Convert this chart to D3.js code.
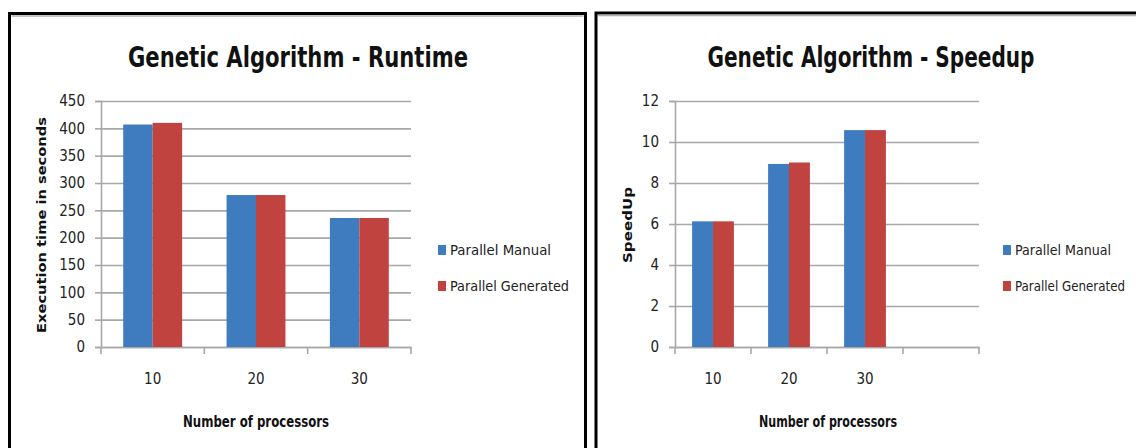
<!DOCTYPE html>
<html>
<head>
<meta charset="utf-8">
<script src="https://cdn.jsdelivr.net/npm/d3@7"></script>
<style>
  body { margin: 0; background: #fff; }
  svg { display: block; }
</style>
</head>
<body>
<div id="chart"></div>
<script>
// values
const categories = ["10", "20", "30"]
const speedupCategories = ["10", "20", "30", ""]   // empty 4th slot in the speedup plot
const seriesNames = ["Parallel Manual", "Parallel Generated"]
const runtimeManual = [407, 278, 236]
const runtimeGenerated = [410, 278, 236]
const speedupManual = [6.13, 8.93, 10.58]
const speedupGenerated = [6.13, 9.0, 10.58]
const runtimeTicks = [0, 50, 100, 150, 200, 250, 300, 350, 400, 450]
const speedupTicks = [0, 2, 4, 6, 8, 10, 12]

const width = 1136
const height = 448
const narrow = "'Liberation Sans Narrow', 'DejaVu Sans Condensed', 'Arial Narrow', sans-serif"
const wide = "'DejaVu Sans', Verdana, sans-serif"

color = d3.scaleOrdinal(seriesNames, ['#3f7cbf', '#c0433f'])

var svg = d3.select('#chart')
    .append("svg")
    .attr('width', width)
    .attr('height', height)

function drawChart(o) {
    var g = svg.append("g")

    // panel frame
    g.append("rect")
        .attr("x", o.frame[0]).attr("y", o.frame[1])
        .attr("width", o.frame[2]).attr("height", o.frame[3])
        .attr("fill", "none").attr("stroke", "#000").attr("stroke-width", 3)
    g.append("line")
        .attr("x1", o.frame[0] + 2).attr("x2", o.frame[0] + o.frame[2] - 2)
        .attr("y1", o.frame[1] + 2.5).attr("y2", o.frame[1] + 2.5)
        .attr("stroke", "#b0b0b0").attr("stroke-width", 1.5)

    var x = d3.scaleBand()
        .domain(o.cats)
        .range(o.xRange)
        .paddingInner(o.pad)
        .paddingOuter(o.pad / 2)

    var x1 = d3.scaleBand()
        .domain(seriesNames)
        .range([0, x.bandwidth()])

    var y = d3.scaleLinear()
        .domain([0, d3.max(o.ticks)])
        .range([347, 101])

    // gridlines
    g.append("g")
        .attr("transform", `translate(${o.xRange[0]},0)`)
        .call(d3.axisRight(y).tickValues(o.ticks).tickSize(o.xRange[1] - o.xRange[0]).tickFormat(""))
        .call(g => g.select(".domain").remove())
        .call(g => g.selectAll(".tick line").attr("stroke", "#a8a8a8").attr("stroke-width", 1.6))

    // y axis
    g.append("g")
        .attr("transform", `translate(${o.xRange[0]},0)`)
        .call(d3.axisLeft(y).tickValues(o.ticks).tickSize(6).tickPadding(10))
        .call(g => g.select(".domain").attr("stroke", "#a8a8a8").attr("stroke-width", 1.6))
        .call(g => g.selectAll(".tick line").attr("stroke", "#a8a8a8").attr("stroke-width", 1.6))
        .call(g => g.selectAll("text")
            .attr("font-family", narrow).attr("font-size", 15).attr("fill", "#222"))

    // x axis: labels at band centres, tick marks on band edges
    g.append("g")
        .attr("transform", `translate(0,${y(0)})`)
        .call(d3.axisBottom(x).tickSize(0).tickPadding(26))
        .call(g => g.select(".domain").attr("stroke", "#a8a8a8").attr("stroke-width", 1.6))
        .call(g => g.selectAll("text")
            .attr("font-family", narrow).attr("font-size", 15).attr("fill", "#222"))

    g.append("g")
        .selectAll("line")
        .data(d3.range(o.cats.length + 1))
        .join("line")
        .attr("x1", i => o.xRange[0] + i * x.step())
        .attr("x2", i => o.xRange[0] + i * x.step())
        .attr("y1", y(0))
        .attr("y2", y(0) + 7)
        .attr("stroke", "#a8a8a8")
        .attr("stroke-width", 1.6)

    // bars
    var rows = categories.map((c, i) => ({ cat: c, values: [o.a[i], o.b[i]] }))
    g.append("g")
        .selectAll("g")
        .data(rows)
        .join("g")
        .attr("transform", d => `translate(${x(d.cat)},0)`)
        .selectAll("rect")
        .data(d => d.values.map((v, j) => ({ key: seriesNames[j], v: v })))
        .join("rect")
        .attr("x", d => x1(d.key))
        .attr("y", d => y(d.v))
        .attr("width", x1.bandwidth())
        .attr("height", d => y(0) - y(d.v))
        .attr("fill", d => color(d.key))

    // title
    g.append("text")
        .attr("x", o.titleX).attr("y", 67)
        .attr("text-anchor", "middle")
        .attr("font-family", narrow).attr("font-weight", "bold").attr("font-size", 28)
        .attr("textLength", o.titleLen).attr("lengthAdjust", "spacingAndGlyphs")
        .attr("fill", "#111")
        .text(o.title)

    // axis titles
    g.append("text")
        .attr("transform", `translate(${o.yTitleX},225) rotate(-90)`)
        .attr("text-anchor", "middle").attr("dy", "0.35em")
        .attr("font-family", wide).attr("font-weight", "bold").attr("font-size", 13)
        .attr("textLength", o.yTitleLen).attr("lengthAdjust", "spacingAndGlyphs")
        .attr("fill", "#111")
        .text(o.yTitle)

    g.append("text")
        .attr("x", o.xTitleX).attr("y", 422)
        .attr("text-anchor", "middle").attr("dy", "0.35em")
        .attr("font-family", narrow).attr("font-weight", "bold").attr("font-size", 15)
        .attr("textLength", o.xTitleLen).attr("lengthAdjust", "spacingAndGlyphs")
        .attr("fill", "#111")
        .text("Number of processors")

    // legend
    var item = g.append("g")
        .selectAll("g")
        .data(seriesNames)
        .join("g")
        .attr("transform", (d, i) => `translate(${o.legX},${250 + i * 36})`)

    item.append("rect")
        .attr("x", 0).attr("y", -5)
        .attr("width", 8).attr("height", 10)
        .attr("fill", d => color(d))

    item.append("text")
        .attr("x", 12)
        .attr("dy", "0.35em")
        .attr("font-family", narrow).attr("font-size", 13.5)
        .attr("textLength", (d, i) => o.legLen[i]).attr("lengthAdjust", "spacingAndGlyphs")
        .attr("fill", "#222")
        .text(d => d)
}

drawChart({
    frame: [9.5, 13.5, 576, 460],
    cats: categories,
    xRange: [101, 411],
    pad: 0.43,
    ticks: runtimeTicks,
    a: runtimeManual,
    b: runtimeGenerated,
    title: "Genetic Algorithm - Runtime",
    titleX: 298, titleLen: 340,
    yTitle: "Execution time in seconds", yTitleX: 41, yTitleLen: 216,
    xTitleX: 256, xTitleLen: 146,
    legX: 438, legLen: [101, 119]
})

drawChart({
    frame: [596, 13, 560, 460],
    cats: speedupCategories,
    xRange: [675, 979],
    pad: 0.45,
    ticks: speedupTicks,
    a: speedupManual,
    b: speedupGenerated,
    title: "Genetic Algorithm - Speedup",
    titleX: 871, titleLen: 327,
    yTitle: "SpeedUp", yTitleX: 627, yTitleLen: 76,
    xTitleX: 828, xTitleLen: 138,
    legX: 1003, legLen: [96, 110]
})
</script>
</body>
</html>
